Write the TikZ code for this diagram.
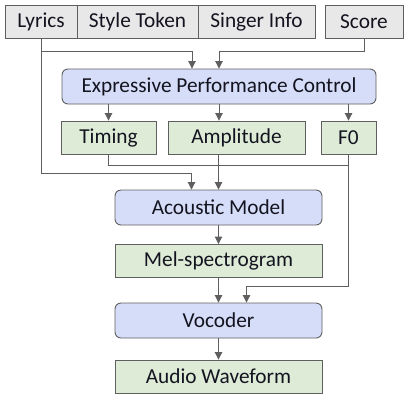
\documentclass[tikz,border=0pt]{standalone}
\usepackage{fontspec}
\setmainfont{Carlito}
\usetikzlibrary{arrows.meta}
\definecolor{edgegray}{HTML}{5F5F5F}
\definecolor{inputfill}{HTML}{E8E8E8}
\definecolor{modfill}{HTML}{D6DDF8}
\definecolor{datafill}{HTML}{DDEBD7}
\definecolor{txtdark}{HTML}{141420}
\begin{document}
\begin{tikzpicture}[
  x=1pt, y=-1pt,
  box/.style={rectangle, draw=edgegray, line width=0.9pt, inner sep=0pt,
              font=\fontsize{21.3}{24}\selectfont, text=txtdark, align=center},
  inputbox/.style={box, fill=inputfill, minimum height=33pt},
  module/.style={box, fill=modfill, rounded corners=6pt, minimum height=35pt},
  data/.style={box, fill=datafill, minimum height=33pt},
  line/.style={draw=edgegray, line width=0.9pt},
  arrow/.style={line, -{Triangle[length=7.5pt, width=7.5pt]}}
]
  \useasboundingbox (0,0) rectangle (406,400);

  % inputs
  \node[inputbox, minimum width=72pt]  (lyrics) at (41, 21.5)    {Lyrics};
  \node[inputbox, minimum width=121pt] (style)  at (137.5, 21.5) {Style Token};
  \node[inputbox, minimum width=117pt] (singer) at (256.5, 21.5) {Singer Info};
  \node[inputbox, minimum width=78pt]  (score)  at (364, 21.5)   {Score};

  % control and its outputs
  \node[module, minimum width=314pt] (epc) at (219, 86.5) {Expressive Performance Control};
  \node[data, minimum width=95pt]  (timing) at (108.5, 137.5) {Timing};
  \node[data, minimum width=137pt] (amp)    at (236.5, 137.5) {Amplitude};
  \node[data, minimum width=55pt]  (f0)     at (348.5, 137.5) {F0};

  % synthesis chain
  \node[module, minimum width=207pt] (am)    at (218.5, 207.5) {Acoustic Model};
  \node[data,   minimum width=207pt] (mel)   at (218.5, 261)   {Mel-spectrogram};
  \node[module, minimum width=207pt] (voc)   at (218.5, 320.5) {Vocoder};
  \node[data,   minimum width=207pt] (audio) at (218.5, 376.5) {Audio Waveform};

  % into the control block
  \draw[arrow] (lyrics.south) -- (lyrics.south |- 0,51) -| ([xshift=-27pt]epc.north);
  \draw[arrow] (score.south) -- (score.south |- 0,51) -| (epc.north);

  \draw[arrow] (epc.south -| timing.north) -- (timing.north);
  \draw[arrow] (epc.south) -- (epc.south |- amp.north);
  \draw[arrow] (epc.south -| f0.north) -- (f0.north);

  % into the acoustic model
  \draw[line] (timing.south) -- (timing.south |- 0,165) -| (am.north |- 0,165);
  \draw[line] (f0.south) -- (f0.south |- 0,165) -| (am.north |- 0,165);
  \draw[arrow] (amp.south -| am.north) -- (am.north);
  \draw[arrow] (lyrics.south) -- (lyrics.south |- 0,173) -| ([xshift=-27pt]am.north);

  \draw[arrow] (am) -- (mel);
  \draw[arrow] (mel) -- (voc);
  \draw[arrow] (f0.south) -- (f0.south |- 0,286) -| ([xshift=28pt]voc.north);
  \draw[arrow] (voc) -- (audio);

\end{tikzpicture}
\end{document}
